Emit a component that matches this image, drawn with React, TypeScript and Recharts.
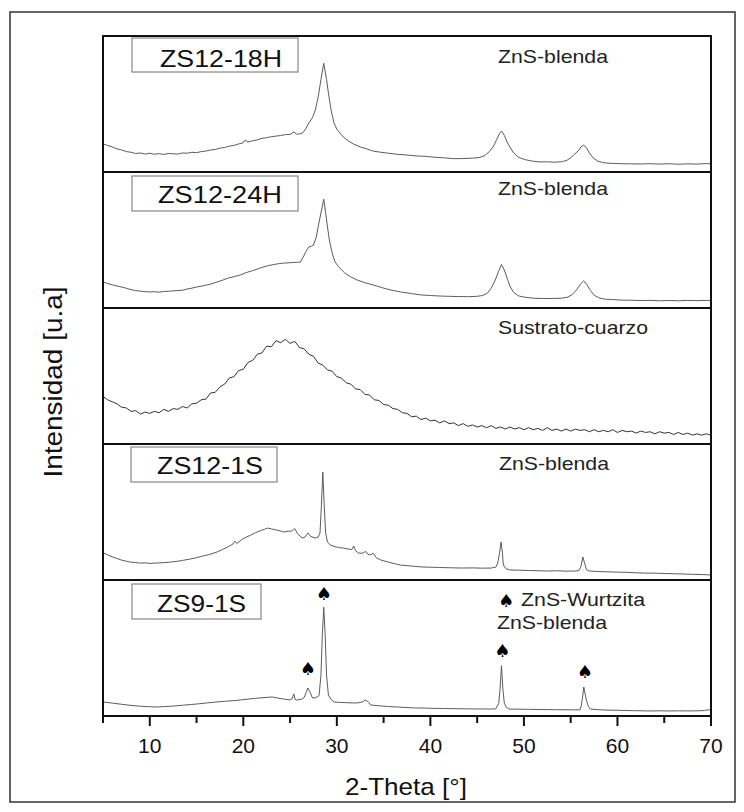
import React from 'react';
import { LineChart, Line, XAxis, YAxis, ReferenceDot } from 'recharts';

// ---------- data (2-Theta in degrees, relative intensity 0..100 per panel) ----------
const xTicks = [5, 10, 15, 20, 25, 30, 35, 40, 45, 50, 55, 60, 65, 70];

const zs12_18h: [number, number][] = [
  [5,20.6],[5.5,19.5],[6,18.4],[6.5,17],[7,16.2],[7.5,15],[8,14.5],[8.5,13.6],[9,14],[9.5,13.2],[10,13.8],[10.5,13],
  [11,13.5],[11.5,12.9],[12,13.6],[13,13.2],[13.5,14],[14,13.8],[14.5,14.5],[15,14.2],[15.5,15],[16,15.4],[16.5,16.2],
  [17,16.5],[17.5,17.6],[18,18],[18.5,19],[19,19.6],[19.5,20.6],[20,21.5],[20.2,23.5],[20.5,22],[21,23],[21.5,23.6],
  [22,24.8],[22.5,25.2],[23,26],[23.5,26.4],[24,26.8],[24.5,27.5],[25,27.6],[25.4,29.5],[25.7,27.8],[26,28],[26.3,28.5],
  [26.6,31],[27,36],[27.4,40],[27.7,45.6],[28,55],[28.3,68],[28.6,80],[28.9,68],[29.1,58],[29.4,45],[29.7,36],[30,31.5],
  [30.4,28],[30.7,25.7],[31.2,23],[31.8,20.5],[32.5,18.4],[33.2,17],[33.8,15.5],[34.5,14.7],[35.5,13.8],[36.5,13],
  [37.5,12.5],[38.5,11.8],[39.5,11.5],[40.5,10.8],[41.5,10.4],[42.5,9.8],[43.5,9.9],[44.5,10.2],[45.2,10.6],[45.8,12],
  [46.3,15],[46.7,18.4],[47.1,24],[47.4,28.5],[47.6,30.1],[47.9,27],[48.2,22],[48.5,18.4],[48.9,14],[49.3,11.5],
  [49.6,10.3],[50.2,9],[50.9,8],[51.7,7.4],[52.5,7.5],[53.3,7.2],[54.1,7.6],[54.6,8.6],[55,10.5],[55.4,13],[55.8,15.5],
  [56.1,18.5],[56.4,19.9],[56.7,17.5],[57,14],[57.4,10.3],[57.9,8],[58.4,7],[58.8,6.6],[59.5,6.3],[60.5,6.1],[61.5,6],
  [62.5,5.9],[63.5,6.1],[64.5,5.8],[65.5,6.1],[66.5,5.7],[67.5,6],[68.5,5.8],[69.5,6.2],[70,6],
];

const zs12_24h: [number, number][] = [
  [5,19.1],[5.5,18],[6,17],[6.5,16.2],[7,15.4],[7.5,14.5],[8,13.5],[8.5,12.8],[9,12.4],[9.5,12],[10,11.8],[10.5,12],
  [11,11.6],[11.5,12.2],[12,12.3],[12.5,12.6],[13,12.8],[13.6,13.2],[14,14],[14.5,14.6],[15,15.4],[15.5,16],[16,16.8],
  [16.5,17.5],[17.2,19.1],[17.8,20.5],[18.3,21.8],[19,23],[19.7,24.3],[20.3,26],[21,27.5],[21.5,28.6],[22.1,30.1],
  [22.7,31.2],[23.3,32],[23.8,32.6],[24.3,33],[24.8,33.2],[25.3,33.5],[25.8,33.6],[26.1,33.8],[26.4,37.5],[26.7,41.5],
  [27,44.9],[27.3,45.5],[27.5,46.3],[27.8,52],[28,59.6],[28.3,70],[28.6,80],[28.8,70],[29,59.6],[29.2,50],[29.5,40.4],
  [29.8,34],[30.2,30.1],[30.8,26],[31.5,22.8],[32.2,20.5],[33,18.6],[33.9,16.9],[34.8,15],[35.8,13.2],[36.8,11.8],
  [38,10.6],[39,9.6],[40,9.2],[41,8.8],[42,8.6],[43,8.4],[44,8.3],[45,8.6],[45.6,9.2],[46.1,11],[46.5,14.5],[46.9,20],
  [47.3,27],[47.6,32],[47.9,28],[48.2,22],[48.5,16],[48.9,11.5],[49.4,9],[50,8],[51,7.2],[52,7],[53,7],[54,7.2],
  [54.7,8],[55.2,10],[55.7,14],[56.1,18],[56.4,20],[56.7,17.5],[57.1,13],[57.5,9.5],[58,7.5],[58.6,6.5],[59.5,6.2],
  [60.5,5.8],[61.5,5.7],[62.5,5.5],[63.5,5.6],[64.5,5.3],[65.5,5.5],[66.5,5.3],[67.5,5.6],[68.5,5.4],[69.5,5.6],[70,5.5],
];

const sustrato: [number, number][] = [
  [5,35],[5.5,32.5],[6,31],[6.5,29.5],[7,27],[7.5,26.5],[8,24],[8.5,24.5],[9,22],[9.5,23.5],[10,22.5],[10.5,24],
  [11,23],[11.5,25.5],[12,24],[12.5,26],[13,25.5],[13.5,27.5],[14,26.5],[14.5,29.5],[15,30],[15.5,32.5],[16,33],
  [16.5,37.5],[17,38],[17.5,42],[18,44],[18.5,48.5],[19,49.5],[19.5,54],[20,55],[20.5,60],[21,61.5],[21.5,66],
  [22,67],[22.5,72],[23,71.5],[23.5,76],[24,74.5],[24.5,77],[25,74],[25.5,75.5],[26,71],[26.5,70],[27,66],[27.5,64.5],
  [28,59.5],[28.5,58],[29,54.5],[29.5,53.5],[30,49.5],[30.5,48.5],[31,45],[31.5,44],[32,40.5],[32.5,40],[33,36.5],
  [33.5,36],[34,32.5],[34.5,32],[35,29],[35.5,28.5],[36,26],[36.5,25.5],[37,23],[37.5,22.5],[38,20],[38.5,20.5],
  [39,18],[39.5,19],[40,17],[40.5,17.5],[41,15.5],[41.5,17],[42,15],[42.5,15.5],[43,13.5],[43.5,15],[44,13],[44.5,14],
  [45,12.5],[45.5,13.5],[46,12],[46.5,13.5],[47,11.5],[47.5,12.5],[48,11],[48.5,12.5],[49,11],[49.5,12],[50,10.5],
  [50.5,12],[51,10.5],[51.5,11.5],[52,10],[52.5,12],[53,10],[53.5,11],[54,9.5],[54.5,11],[55,9.5],[55.5,11],[56,10],
  [56.5,10.5],[57,9],[57.5,10.5],[58,9],[58.5,10],[59,9],[59.5,10.5],[60,8.5],[60.5,10],[61,9],[61.5,9.5],[62,8],
  [62.5,9.5],[63,8.5],[63.5,9],[64,7.5],[64.5,9],[65,8],[65.5,8.5],[66,7],[66.5,8.5],[67,7],[67.5,8],[68,6.5],
  [68.5,7.5],[69,6.5],[69.5,7.5],[70,6.5],
];

const zs12_1s: [number, number][] = [
  [5,19.9],[5.5,18.5],[6,17],[6.5,15.8],[7,14.6],[7.5,13.8],[7.9,13.2],[8.5,12.8],[9,12.4],[9.5,12.6],[10,12.2],
  [10.8,12.5],[11.5,12.8],[12,13],[12.5,13.4],[13,13.8],[13.5,14.4],[14.3,15.4],[15,16.4],[15.6,17.5],[16.3,18.6],
  [17.2,20.6],[17.8,22.5],[18.4,24.5],[18.9,26.5],[19.1,28.5],[19.3,26.8],[19.8,29.5],[20.3,31.5],[20.8,33],[21.3,34.8],
  [21.8,36.2],[22.3,37.4],[22.6,38.2],[23,37.6],[23.5,36.8],[24,36],[24.3,35.3],[24.8,35.8],[25.2,36],[25.5,37.8],
  [25.8,34],[26.3,30.9],[26.6,31.5],[26.9,34.6],[27.2,32],[27.7,30.9],[28,31.5],[28.2,34.6],[28.35,55],[28.5,79.4],
  [28.65,55],[28.8,34.6],[29,28],[29.3,25.7],[29.8,24.5],[30.3,23.8],[30.7,23.5],[31.2,22.8],[31.6,22.4],[31.8,25],
  [32,21.5],[32.3,19.9],[32.7,19.6],[33.1,21],[33.3,19],[33.5,18.4],[33.9,19.6],[34.2,16.5],[34.7,14.7],[35.5,13.2],
  [36.2,12],[36.8,11],[37.5,10.6],[38.2,10.1],[39,9.6],[40,9.4],[41,9.2],[42,9],[43.3,8.8],[44.5,8.9],[45.5,8.7],
  [46.5,8.8],[47,9.5],[47.2,12.5],[47.4,20],[47.55,27.9],[47.7,20],[47.8,11],[48.1,8.2],[48.5,7.4],[49.5,7.2],
  [50.5,7],[51.5,6.8],[52.5,6.6],[53.5,6.8],[54.5,6.5],[55.5,6.6],[55.9,7],[56.1,10],[56.3,16.9],[56.5,12],[56.7,7.4],
  [57,6.6],[58,6.2],[59,6],[60,5.8],[61,5.6],[62,5.3],[63,5.1],[64,5],[65,4.8],[66,4.6],[67,4.4],[68,4.2],[69,4],[70,3.7],
];

const zs9_1s: [number, number][] = [
  [5,10.3],[6,9.5],[7,8.6],[8,7.8],[9,7.2],[10,6.8],[10.8,6.6],[11.5,6.9],[12.5,7.3],[13.5,7.9],[14.5,8.5],[15.3,9],
  [16.1,9.6],[17,10.2],[18,10.8],[19,11.3],[19.7,11.8],[20.5,12.4],[21.3,13],[22.2,13.5],[23.1,14],[23.7,13.2],
  [24.4,12.4],[25,11.8],[25.2,12.5],[25.4,16.2],[25.55,12],[25.8,11.8],[26.2,12.3],[26.5,13.5],[26.7,17],[26.9,20.6],
  [27.1,18],[27.4,13.2],[27.8,13.6],[28.1,15],[28.3,30],[28.45,60],[28.6,80],[28.75,60],[28.9,30],[29.1,15.4],
  [29.4,12],[29.7,10.3],[30.3,10],[31,9.8],[31.7,9.6],[32.2,9.6],[32.7,10.3],[33.1,11.8],[33.4,10],[33.6,8.1],
  [34.5,7.5],[35.5,7],[36.5,6.6],[37.5,6.2],[38.4,5.9],[39.5,5.8],[40.5,5.6],[41.5,5.5],[42.5,5.4],[43.5,5.3],
  [44.5,5.2],[45.5,5.2],[46.5,5.1],[47,5.3],[47.3,9],[47.45,20],[47.6,37],[47.75,20],[47.9,9.6],[48.1,6.5],[48.4,5.1],
  [49.5,5],[50.5,4.9],[51.5,4.8],[52.5,4.7],[53.5,4.6],[54.5,4.6],[55.5,4.5],[56,4.6],[56.15,8],[56.3,15.4],
  [56.4,21.3],[56.55,16],[56.7,11],[56.9,7],[57.1,5.1],[58,4.6],[59,4.3],[60,4.2],[61,4],[62,3.9],[63.3,3.7],
  [64.5,3.8],[65.5,3.7],[66.5,3.8],[67.5,3.7],[68.5,3.8],[69.3,4],[69.7,4.6],[70,4.2],
];

// wurtzite peak markers (♠) in the ZS9-1S panel: [2θ, marker baseline intensity]
const spadeMarks: [number, number][] = [[26.9, 30.1], [28.6, 85.3], [47.7, 43.4], [56.5, 27.9]];

const sampleLabels = ['ZS12-18H', 'ZS12-24H', '', 'ZS12-1S', 'ZS9-1S'];
const phaseLabels = ['ZnS-blenda', 'ZnS-blenda', 'Sustrato-cuarzo', 'ZnS-blenda', 'ZnS-blenda'];
const seriesList = [zs12_18h, zs12_24h, sustrato, zs12_1s, zs9_1s];

// ---------- layout ----------
const FONT = '"Liberation Sans", Arial, Helvetica, sans-serif';
const PLOT_L = 103;
const PLOT_T = 36;
const PLOT_W = 608;
const PANEL_H = 136;
const PAD = 24;
const AXIS_H = 50;

const boxGeom = [
  { x: 132, y: 38, w: 166, h: 34, tx: 160, ty: 67, tl: 122 },
  { x: 132, y: 176, w: 166, h: 35, tx: 158, ty: 203, tl: 124 },
  null,
  { x: 131, y: 447, w: 146, h: 35, tx: 157, ty: 474, tl: 106 },
  { x: 132, y: 584, w: 129, h: 35, tx: 157, ty: 612, tl: 89 },
];
const phaseGeom = [
  { x: 498, y: 63, l: 110 },
  { x: 498, y: 195, l: 110 },
  { x: 498, y: 334, l: 150 },
  { x: 499, y: 470, l: 110 },
  { x: 497, y: 629, l: 110 },
];

const AxisTick = (props: any) => {
  const { x, y, payload } = props;
  const v = payload.value as number;
  const major = v % 10 === 0;
  return (
    <g>
      <line x1={x} x2={x} y1={y} y2={y + (major ? 10 : 7)} stroke="#111" strokeWidth={2} />
      {major && (
        <text x={x} y={y + 37} textAnchor="middle" fontSize={21} fontFamily={FONT} fill="#111">
          {v}
        </text>
      )}
    </g>
  );
};

const Spade = (props: any) => (
  <text x={props.cx} y={props.cy} textAnchor="middle" fontSize={18} fontFamily='"DejaVu Sans", sans-serif' fill="#000">
    ♠
  </text>
);

export default function App() {
  return (
    <div style={{ position: 'absolute', left: 0, top: 0, width: 744, height: 812, background: '#fff' }}>
      {seriesList.map((series, i) => {
        const last = i === seriesList.length - 1;
        const data = series.map(([x, y]) => ({ x, y }));
        return (
          <div key={i} style={{ position: 'absolute', left: PLOT_L - PAD, top: PLOT_T + i * PANEL_H }}>
            <LineChart
              width={PLOT_W + 2 * PAD}
              height={PANEL_H + (last ? AXIS_H : 0)}
              data={data}
              margin={{ top: 0, right: PAD, bottom: 0, left: PAD }}
            >
              <XAxis
                dataKey="x"
                type="number"
                domain={[5, 70]}
                allowDataOverflow
                ticks={xTicks}
                interval={0}
                hide={!last}
                height={AXIS_H}
                axisLine={false}
                tickLine={false}
                tickSize={0}
                tickMargin={0}
                tick={<AxisTick />}
              />
              <YAxis type="number" domain={[0, 100]} allowDataOverflow hide />
              <Line
                type="linear"
                dataKey="y"
                stroke={i === 2 ? '#333' : '#5c5c5c'}
                strokeWidth={1}
                dot={false}
                isAnimationActive={false}
              />
              {last &&
                spadeMarks.map(([sx, sy], k) => (
                  <ReferenceDot key={k} x={sx} y={sy} r={0} shape={<Spade />} />
                ))}
            </LineChart>
          </div>
        );
      })}

      <svg
        width={744}
        height={812}
        style={{ position: 'absolute', left: 0, top: 0, pointerEvents: 'none' }}
        fontFamily={FONT}
      >
        <rect x={10} y={12} width={725} height={790} fill="none" stroke="#333" strokeWidth={1.5} />
        <rect x={PLOT_L} y={PLOT_T} width={PLOT_W} height={PANEL_H * 5} fill="none" stroke="#111" strokeWidth={2} />
        {[1, 2, 3, 4].map((k) => (
          <line key={k} x1={PLOT_L} x2={PLOT_L + PLOT_W} y1={PLOT_T + k * PANEL_H} y2={PLOT_T + k * PANEL_H} stroke="#111" strokeWidth={2} />
        ))}

        {boxGeom.map((b, i) =>
          b ? (
            <g key={i}>
              <rect x={b.x} y={b.y} width={b.w} height={b.h} fill="#fff" stroke="#888" strokeWidth={1.2} />
              <text x={b.tx} y={b.ty} fontSize={24} fill="#111" textLength={b.tl} lengthAdjust="spacingAndGlyphs">
                {sampleLabels[i]}
              </text>
            </g>
          ) : null
        )}

        {phaseGeom.map((p, i) => (
          <text key={i} x={p.x} y={p.y} fontSize={19} fill="#222" textLength={p.l} lengthAdjust="spacingAndGlyphs">
            {phaseLabels[i]}
          </text>
        ))}

        <text x={506} y={607} textAnchor="middle" fontSize={18} fontFamily='"DejaVu Sans", sans-serif' fill="#000">
          ♠
        </text>
        <text x={521} y={606} fontSize={19} fill="#222" textLength={124} lengthAdjust="spacingAndGlyphs">
          ZnS-Wurtzita
        </text>

        <text x={345} y={795} fontSize={24} fill="#111" textLength={122} lengthAdjust="spacingAndGlyphs">
          2-Theta [°]
        </text>
        <text
          x={62}
          y={382}
          textAnchor="middle"
          fontSize={26}
          fill="#111"
          textLength={191}
          lengthAdjust="spacingAndGlyphs"
          transform="rotate(-90 62 382)"
        >
          Intensidad [u.a]
        </text>
      </svg>
    </div>
  );
}
